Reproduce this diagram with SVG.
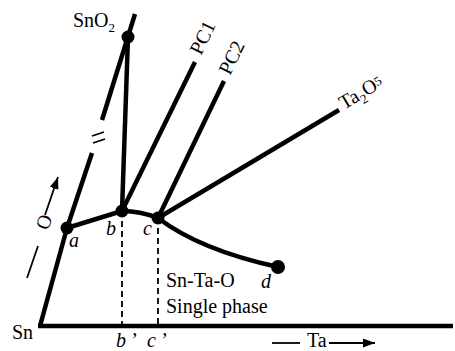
<svg xmlns="http://www.w3.org/2000/svg" width="455" height="351" viewBox="0 0 455 351">
<defs>
<style>
.ln{stroke:#000;stroke-width:4.5;fill:none;stroke-linecap:butt}
.th{stroke:#000;stroke-width:1.8;fill:none}
.ds{stroke:#000;stroke-width:1.8;fill:none;stroke-dasharray:6,4}
.dot{fill:#000}
text{font-family:"Liberation Serif","Times New Roman",serif;font-size:20px;fill:#000}
.it{font-style:italic}
.sub{font-size:13px}
</style>
<marker id="ah" viewBox="0 0 12 9" refX="12" refY="4.5" markerWidth="12" markerHeight="9" markerUnits="userSpaceOnUse" orient="auto">
<path d="M0,0 L12,4.5 L0,9 Z" fill="#000"/>
</marker>
</defs>
<rect width="455" height="351" fill="#fff"/>
<g id="connectors">
<line class="ln" x1="38" y1="326" x2="453" y2="326"/>
<line class="ln" x1="40" y1="326" x2="67" y2="228"/>
<line class="ln" x1="67" y1="228" x2="92" y2="153"/>
<line class="ln" x1="102" y1="120" x2="135" y2="14"/>
<line class="ln" x1="128" y1="37" x2="122" y2="211"/>
<line class="ln" x1="67" y1="228" x2="122" y2="211"/>
<path class="ln" d="M122,211 Q140,211 158,218"/>
<line class="ln" x1="122" y1="211" x2="195" y2="62"/>
<line class="ln" x1="158" y1="218" x2="224" y2="81"/>
<line class="ln" x1="158" y1="218" x2="339" y2="110"/>
<path class="ln" d="M158,218 Q200,250 278,267"/>
<line class="ds" x1="122" y1="211" x2="122" y2="325"/>
<line class="ds" x1="158" y1="218" x2="158" y2="325"/>
<line class="th" x1="92" y1="136" x2="104" y2="132"/>
<line class="th" x1="93" y1="143" x2="105" y2="139"/>
<line class="th" x1="272" y1="343" x2="300" y2="343"/>
<line class="th" x1="329" y1="343" x2="375" y2="343" marker-end="url(#ah)"/>
<line class="th" x1="27" y1="278" x2="38" y2="246"/>
<line class="th" x1="45" y1="215" x2="58" y2="177" marker-end="url(#ah)"/>
</g>
<g id="node-SnO2">
<circle class="dot" cx="128" cy="37" r="6.5"/>
<text x="73" y="27">SnO<tspan class="sub" dy="5">2</tspan></text>
</g>
<g id="node-PC1">
<text transform="translate(201,56) rotate(-64)">PC1</text>
</g>
<g id="node-PC2">
<text transform="translate(230,76) rotate(-64)">PC2</text>
</g>
<g id="node-Ta2O5">
<text transform="translate(344,110) rotate(-31)">Ta<tspan class="sub" dy="5">2</tspan><tspan dy="-5">O</tspan><tspan class="sub" dy="-3">5</tspan></text>
</g>
<g id="node-a">
<circle class="dot" cx="67" cy="228" r="6.5"/>
<text class="it" x="69" y="247">a</text>
</g>
<g id="node-b">
<circle class="dot" cx="122" cy="211" r="6.5"/>
<text class="it" x="106" y="235">b</text>
</g>
<g id="node-c">
<circle class="dot" cx="158" cy="218" r="6.5"/>
<text class="it" x="143" y="235">c</text>
</g>
<g id="node-d">
<circle class="dot" cx="278" cy="267" r="7"/>
<text class="it" x="261" y="288">d</text>
</g>
<g id="node-Sn">
<text x="12" y="339">Sn</text>
</g>
<g id="labels">
<text class="it" x="116" y="347">b<tspan dx="4">’</tspan></text>
<text class="it" x="147" y="347">c<tspan dx="4">’</tspan></text>
<text x="166" y="287">Sn-Ta-O</text>
<text x="166" y="313">Single phase</text>
<text x="307" y="347">Ta</text>
<text transform="translate(48,231) rotate(-71)">O</text>
</g>
</svg>
